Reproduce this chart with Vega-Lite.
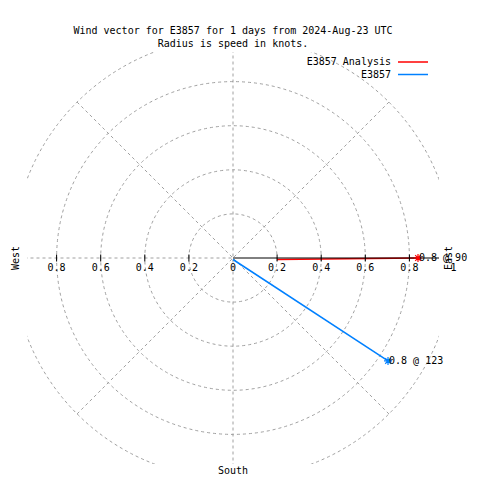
{
  "$schema": "https://vega.github.io/schema/vega-lite/v6.json",
  "width": 412,
  "height": 412,
  "autosize": {"type": "none"},
  "padding": {"left": 27, "top": 52, "right": 41, "bottom": 16},
  "background": "white",
  "title": {
    "text": ["Wind vector for E3857 for 1 days from 2024-Aug-23 UTC", "Radius is speed in knots."],
    "font": "DejaVu Sans Mono",
    "fontSize": 10,
    "fontWeight": "normal",
    "color": "black",
    "anchor": "middle",
    "frame": "group",
    "offset": 9,
    "dy": 6,
    "lineHeight": 13
  },
  "config": {
    "view": {"stroke": null},
    "font": "DejaVu Sans Mono",
    "text": {"font": "DejaVu Sans Mono", "fontSize": 10, "color": "black"}
  },
  "datasets": {
    "circles": [{"r": 0.2}, {"r": 0.4}, {"r": 0.6}, {"r": 0.8}, {"r": 1.0}],
    "spokes": [
      {"xa": -0.7071, "ya": -0.7071, "xb": 0.7071, "yb": 0.7071},
      {"xa": -0.7071, "ya": 0.7071, "xb": 0.7071, "yb": -0.7071},
      {"xa": 0, "ya": -1, "xb": 0, "yb": 1},
      {"xa": -1, "ya": 0, "xb": 0, "yb": 0}
    ],
    "raxis": [{"xa": 0, "ya": 0, "xb": 1, "yb": 0}],
    "ticks": [{"r": -0.8}, {"r": -0.6}, {"r": -0.4}, {"r": -0.2}, {"r": 0.2}, {"r": 0.4}, {"r": 0.6}, {"r": 0.8}],
    "ticklabels": [
      {"r": -0.8, "t": "0.8"}, {"r": -0.6, "t": "0.6"}, {"r": -0.4, "t": "0.4"}, {"r": -0.2, "t": "0.2"},
      {"r": 0, "t": "0"}, {"r": 0.2, "t": "0.2"}, {"r": 0.4, "t": "0.4"}, {"r": 0.6, "t": "0.6"},
      {"r": 0.8, "t": "0.8"}, {"r": 1.0, "t": "1"}
    ],
    "vectors": [
      {"series": "E3857 Analysis", "x0": 0.2, "y0": 0, "x": 0.839, "y": 0, "label": "0.8 @ 90"},
      {"series": "E3857", "x0": 0, "y0": 0, "x": 0.703, "y": -0.467, "label": "0.8 @ 123"}
    ],
    "sidecompass": [{"label": "West", "x": -0.986, "y": 0}, {"label": "East", "x": 0.98, "y": 0}],
    "southcompass": [{"label": "South", "x": 0, "y": -0.966}]
  },
  "layer": [
    {
      "data": {"name": "circles"},
      "mark": {"type": "point", "shape": "circle", "filled": false, "stroke": "#a0a0a0", "strokeWidth": 1, "strokeDash": [3, 3], "clip": true, "opacity": 1},
      "encoding": {
        "x": {"datum": 0, "type": "quantitative", "scale": {"domain": [-0.93424, 0.93424], "nice": false, "zero": false}, "axis": null},
        "y": {"datum": 0, "type": "quantitative", "scale": {"domain": [-0.93424, 0.93424], "nice": false, "zero": false}, "axis": null},
        "size": {"field": "r", "type": "quantitative", "scale": {"type": "pow", "exponent": 2, "domain": [0, 1], "range": [0, 194481]}, "legend": null}
      }
    },
    {
      "data": {"name": "spokes"},
      "mark": {"type": "rule", "stroke": "#a0a0a0", "strokeWidth": 1, "strokeDash": [3, 3], "clip": true},
      "encoding": {
        "x": {"field": "xa", "type": "quantitative", "scale": {"domain": [-0.93424, 0.93424], "nice": false, "zero": false}, "axis": null},
        "y": {"field": "ya", "type": "quantitative", "scale": {"domain": [-0.93424, 0.93424], "nice": false, "zero": false}, "axis": null},
        "x2": {"field": "xb"},
        "y2": {"field": "yb"}
      }
    },
    {
      "data": {"name": "vectors"},
      "mark": {"type": "rule", "strokeWidth": 1.5, "yOffset": 1.5},
      "encoding": {
        "x": {"field": "x0", "type": "quantitative", "scale": {"domain": [-0.93424, 0.93424], "nice": false, "zero": false}, "axis": null},
        "y": {"field": "y0", "type": "quantitative", "scale": {"domain": [-0.93424, 0.93424], "nice": false, "zero": false}, "axis": null},
        "x2": {"field": "x"},
        "y2": {"field": "y"},
        "color": {
          "field": "series", "type": "nominal",
          "scale": {"domain": ["E3857 Analysis", "E3857"], "range": ["#ff0000", "#0080ff"]},
          "legend": {
            "orient": "none", "legendX": 380, "legendY": 4, "title": null,
            "symbolType": "M-3,0L3,0", "symbolSize": 100, "symbolStrokeWidth": 1.5,
            "labelAlign": "right", "labelOffset": -28, "labelFont": "DejaVu Sans Mono",
            "labelFontSize": 10, "labelColor": "black", "rowPadding": 1.5, "padding": 0
          }
        }
      }
    },
    {
      "data": {"name": "raxis"},
      "mark": {"type": "rule", "stroke": "black", "strokeWidth": 1, "clip": true},
      "encoding": {
        "x": {"field": "xa", "type": "quantitative", "scale": {"domain": [-0.93424, 0.93424], "nice": false, "zero": false}, "axis": null},
        "y": {"field": "ya", "type": "quantitative", "scale": {"domain": [-0.93424, 0.93424], "nice": false, "zero": false}, "axis": null},
        "x2": {"field": "xb"},
        "y2": {"field": "yb"}
      }
    },
    {
      "data": {"name": "ticks"},
      "mark": {"type": "tick", "orient": "vertical", "color": "black", "size": 7, "thickness": 1, "opacity": 1},
      "encoding": {
        "x": {"field": "r", "type": "quantitative", "scale": {"domain": [-0.93424, 0.93424], "nice": false, "zero": false}, "axis": null},
        "y": {"datum": 0, "type": "quantitative", "scale": {"domain": [-0.93424, 0.93424], "nice": false, "zero": false}, "axis": null}
      }
    },
    {
      "data": {"name": "vectors"},
      "mark": {"type": "point", "shape": "M-1,0L1,0M0,-1L0,1M-0.7,-0.7L0.7,0.7M-0.7,0.7L0.7,-0.7", "filled": false, "size": 64, "strokeWidth": 1.2, "opacity": 1},
      "encoding": {
        "x": {"field": "x", "type": "quantitative", "scale": {"domain": [-0.93424, 0.93424], "nice": false, "zero": false}, "axis": null},
        "y": {"field": "y", "type": "quantitative", "scale": {"domain": [-0.93424, 0.93424], "nice": false, "zero": false}, "axis": null},
        "color": {"field": "series", "type": "nominal", "legend": null}
      }
    },
    {
      "data": {"name": "ticklabels"},
      "mark": {"type": "text", "align": "center", "baseline": "middle", "dy": 10, "fontSize": 10, "font": "DejaVu Sans Mono", "color": "black"},
      "encoding": {
        "x": {"field": "r", "type": "quantitative", "scale": {"domain": [-0.93424, 0.93424], "nice": false, "zero": false}, "axis": null},
        "y": {"datum": 0, "type": "quantitative", "scale": {"domain": [-0.93424, 0.93424], "nice": false, "zero": false}, "axis": null},
        "text": {"field": "t"}
      }
    },
    {
      "data": {"name": "vectors"},
      "mark": {"type": "text", "align": "left", "baseline": "middle", "dx": 1, "fontSize": 10, "font": "DejaVu Sans Mono", "color": "black"},
      "encoding": {
        "x": {"field": "x", "type": "quantitative", "scale": {"domain": [-0.93424, 0.93424], "nice": false, "zero": false}, "axis": null},
        "y": {"field": "y", "type": "quantitative", "scale": {"domain": [-0.93424, 0.93424], "nice": false, "zero": false}, "axis": null},
        "text": {"field": "label"}
      }
    },
    {
      "data": {"name": "sidecompass"},
      "mark": {"type": "text", "align": "center", "baseline": "middle", "angle": 270, "fontSize": 10, "font": "DejaVu Sans Mono", "color": "black"},
      "encoding": {
        "x": {"field": "x", "type": "quantitative", "scale": {"domain": [-0.93424, 0.93424], "nice": false, "zero": false}, "axis": null},
        "y": {"field": "y", "type": "quantitative", "scale": {"domain": [-0.93424, 0.93424], "nice": false, "zero": false}, "axis": null},
        "text": {"field": "label"}
      }
    },
    {
      "data": {"name": "southcompass"},
      "mark": {"type": "text", "align": "center", "baseline": "middle", "fontSize": 10, "font": "DejaVu Sans Mono", "color": "black"},
      "encoding": {
        "x": {"field": "x", "type": "quantitative", "scale": {"domain": [-0.93424, 0.93424], "nice": false, "zero": false}, "axis": null},
        "y": {"field": "y", "type": "quantitative", "scale": {"domain": [-0.93424, 0.93424], "nice": false, "zero": false}, "axis": null},
        "text": {"field": "label"}
      }
    }
  ]
}
